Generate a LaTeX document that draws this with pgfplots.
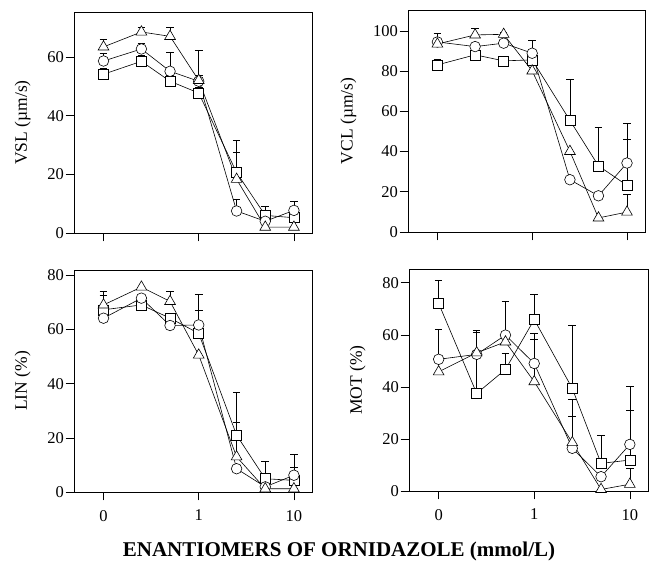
\documentclass[border=0pt]{standalone}
\usepackage{fontspec}
\setmainfont{Liberation Serif}
\usepackage{pgfplots}
\pgfplotsset{compat=1.18}
\usepackage{pgfplotstable}

% columns: log10 position, square, square err, circle, circle err, triangle, triangle err
\pgfplotstableread{
x sq sqe ci cie tr tre
-1 54.1 2 58.6 2.5 63.4 2.6
-0.602 58.5 2 62.7 2 68.5 1.7
-0.301 51.7 2 55.1 6.4 67.0 3.2
0 47.7 2 51.7 2 52.0 10.3
0.398 20.6 11 7.5 4 18.3 9.3
0.699 6.0 3.1 4.0 0 2.0 0
1 5.2 0 7.7 3.2 2.0 0
}\vsl
\pgfplotstableread{
x sq sqe ci cie tr tre
-1 83.1 3.0 94.5 2 93.5 5.3
-0.602 88.1 2.5 92.2 1 98.0 3.3
-0.301 85.1 0 93.9 1 98.3 1
0 85.6 5.0 88.9 6.6 80.1 0
0.398 55.5 20.2 26.0 0 40.1 0
0.699 32.9 19.3 18.0 0 7.0 0
1 23.2 23 34.3 19.8 9.9 8.6
}\vcl
\pgfplotstableread{
x sq sqe ci cie tr tre
-1 67.3 5.5 64.2 0 69.1 5
-0.602 69.1 0 71.6 0 75.7 0
-0.301 64.2 0 61.5 0 70.4 3.7
0 58.6 8.4 61.7 11.5 50.6 0
0.398 21.0 16 8.6 0 13.0 12.7
0.699 4.9 6.6 1.9 0 1.2 0
1 4.3 4.7 6.2 7.8 1.2 0
}\lin
\pgfplotstableread{
x sq sqe ci cie tr tre
-1 72.1 8.7 50.6 11.6 45.8 0
-0.602 37.5 23.3 52.5 0 53.1 8.7
-0.301 46.7 6.4 59.9 13.1 57.3 0
0 65.9 9.6 49.0 11.6 42.0 16.4
0.398 39.4 24.3 16.4 18.9 18.6 10.2
0.699 10.6 10.9 5.5 0 0.6 0
1 11.9 19 17.9 22.2 2.6 6.1
}\mot

\pgfplotsset{
  panel/.style={
    scale only axis, width=238pt, height=221pt,
    xmin=-1.31, xmax=1.19, ymin=0,
    xtick={-1,0,1},
    tick align=outside, tick pos=left,
    major tick length=8.5pt,
    axis line style={line width=0.6pt},
    every tick/.style={black, line width=0.6pt},
    ticklabel style={font=\fontsize{16.5}{19}\selectfont},
    yticklabel style={xshift=2pt},
    xticklabel style={yshift=-6pt},
    /pgf/number format/assume math mode=true,
    ylabel style={font=\fontsize{17.5}{21}\selectfont, yshift=10pt},
    clip=false,
    after end axis/.code={\draw[line width=0.6pt] (rel axis cs:-0.03,0) -- (rel axis cs:0,0);},
  },
  base/.style={black, line width=0.6pt, mark options={fill=white, solid},
    error bars/y dir=plus, error bars/y explicit,
    error bars/error bar style={line width=0.6pt, solid},
    error bars/error mark options={rotate=90, mark size=3.8pt, line width=0.6pt}},
  sqs/.style={base, mark=square*, mark size=5pt},
  cis/.style={base, mark=*, mark size=5.3pt},
  trs/.style={base, mark=triangle*, mark size=6.2pt},
}

\begin{document}
\begin{tikzpicture}
\useasboundingbox (0pt,0pt) rectangle (651pt,562pt);

\begin{axis}[panel, at={(74pt,329pt)}, anchor=south west, height=221pt,
  ymax=75.3, ytick={0,20,40,60}, xticklabels={,,}, ylabel={VSL (µm/s)}]
\addplot[sqs] table[x=x, y=sq, y error=sqe]{\vsl};
\addplot[cis] table[x=x, y=ci, y error=cie]{\vsl};
\addplot[trs] table[x=x, y=tr, y error=tre]{\vsl};
\end{axis}

\begin{axis}[panel, at={(408pt,330pt)}, anchor=south west, width=237pt, height=222pt,
  ymax=110.4, ytick={0,20,40,60,80,100}, xticklabels={,,}, ylabel={VCL (µm/s)}]
\addplot[sqs] table[x=x, y=sq, y error=sqe]{\vcl};
\addplot[cis] table[x=x, y=ci, y error=cie]{\vcl};
\addplot[trs] table[x=x, y=tr, y error=tre]{\vcl};
\end{axis}

\begin{axis}[panel, at={(74pt,70pt)}, anchor=south west, height=222pt,
  ymax=82, ytick={0,20,40,60,80}, xticklabels={0,1,10}, ylabel={LIN (\%)}]
\addplot[sqs] table[x=x, y=sq, y error=sqe]{\lin};
\addplot[cis] table[x=x, y=ci, y error=cie]{\lin};
\addplot[trs] table[x=x, y=tr, y error=tre]{\lin};
\end{axis}

\begin{axis}[panel, at={(409pt,71pt)}, anchor=south west, width=239pt, height=222pt,
  ymax=85.3, ytick={0,20,40,60,80}, xticklabels={0,1,10}, ylabel={MOT (\%)}]
\addplot[sqs] table[x=x, y=sq, y error=sqe]{\mot};
\addplot[cis] table[x=x, y=ci, y error=cie]{\mot};
\addplot[trs] table[x=x, y=tr, y error=tre]{\mot};
\end{axis}

\node[font=\bfseries\fontsize{21}{25}\selectfont, anchor=base] at (339pt,5.5pt) {ENANTIOMERS OF ORNIDAZOLE (mmol/L)};
\end{tikzpicture}
\end{document}
